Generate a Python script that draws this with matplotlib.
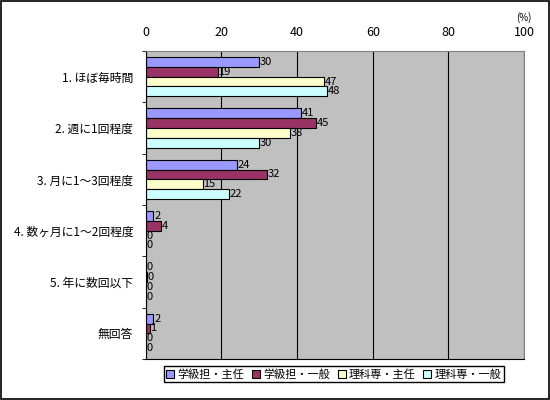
import numpy as np
import matplotlib.pyplot as plt
from matplotlib.patches import Rectangle

plt.rcParams['font.family'] = ['Noto Sans CJK JP', 'DejaVu Sans']
plt.rcParams['font.size'] = 8

categories = ["1. ほぼ毎時間", "2. 週に1回程度", "3. 月に1～3回程度",
              "4. 数ヶ月に1～2回程度", "5. 年に数回以下", "無回答"]
series_names = ["学級担・主任", "学級担・一般", "理科専・主任", "理科専・一般"]
tannin_shunin = [30, 41, 24, 2, 0, 2]
tannin_ippan = [19, 45, 32, 4, 0.3, 1]
senka_shunin = [47, 38, 15, 0, 0, 0]
senka_ippan = [48, 30, 22, 0, 0, 0]
colors = ["#9999FF", "#993366", "#FFFFCC", "#CCFFFF"]

fig = plt.figure(figsize=(5.5, 4), dpi=100)
fig.patches.append(Rectangle((0.002, 0.002), 0.996, 0.995, transform=fig.transFigure,
                             fill=False, edgecolor="black", linewidth=1.2))
ax = fig.add_axes([0.265, 0.1025, 0.688, 0.77])
ax.set_facecolor("#C0C0C0")

y = np.arange(len(categories))
h = 0.19
all_vals = [tannin_shunin, tannin_ippan, senka_shunin, senka_ippan]
for i, (vals, name, c) in enumerate(zip(all_vals, series_names, colors)):
    pos = y - 1.5 * h + i * h
    ax.barh(pos, vals, height=h, color=c, edgecolor="black", linewidth=0.8, label=name)
    for p, v in zip(pos, vals):
        ax.text(v + 0.2, p, str(int(round(v))), va="center", ha="left", fontsize=8)

ax.set_xlim(0, 100)
ax.set_ylim(len(categories) - 0.5, -0.5)
ax.set_xticks([0, 20, 40, 60, 80, 100])
ax.xaxis.tick_top()
ax.tick_params(axis="x", length=0, pad=9, labelsize=9)
ax.set_yticks(y)
ax.set_yticklabels(categories)
ax.tick_params(axis="y", length=0, pad=9, labelsize=8.5)
ax.set_yticks(np.arange(-0.5, len(categories), 1), minor=True)
ax.tick_params(axis="y", which="minor", length=3, direction="out")
ax.grid(axis="x", color="black", linewidth=0.8)
ax.set_axisbelow(True)
for s in ["top", "right"]:
    ax.spines[s].set_color("#808080")
for s in ["left", "bottom"]:
    ax.spines[s].set_color("black")

fig.text(0.953, 0.955, "(%)", ha="center", va="center", fontsize=7)

fig.legend(loc="lower center", bbox_to_anchor=(0.607, 0.03), ncol=4, frameon=True,
           fancybox=False, edgecolor="black", framealpha=1, fontsize=8,
           handlelength=0.7, handleheight=0.7, handletextpad=0.3, columnspacing=0.7,
           borderpad=0.25)

fig.savefig("out.png", dpi=100)
